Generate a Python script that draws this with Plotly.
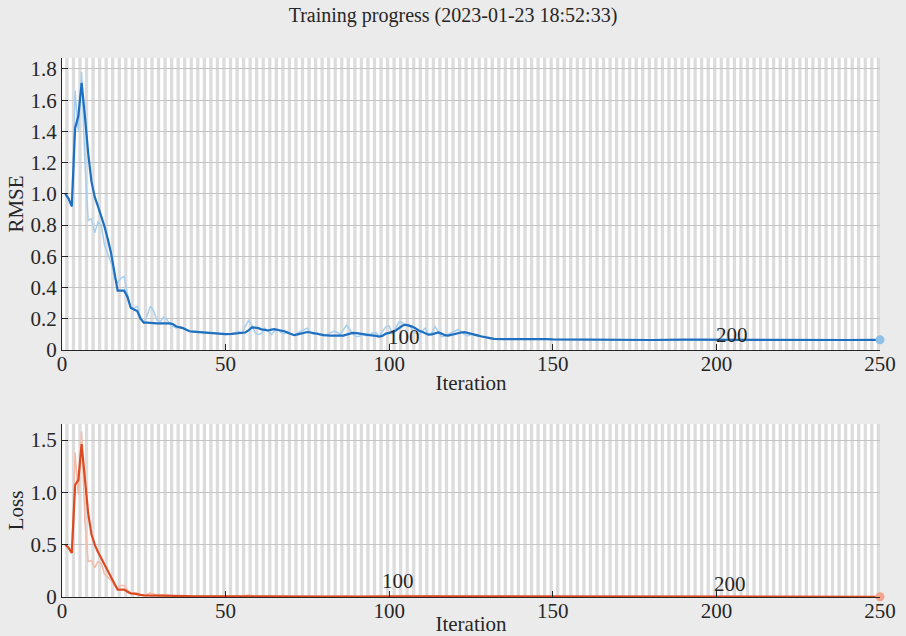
import plotly.graph_objects as go

# ---------------- data ----------------
rmse_it = [1,2,3,4,5,6,7,8,9,10,11,12,13,14,15,16,17,18,19,20,21,22,23,24,25,26,27,28,29,30,
           31,32,33,34,35,36,37,38,39,40,42,44,46,48,50,52,54,56,57,58,59,60,61,62,63,64,65,66,67,68,
           69,70,71,72,73,74,75,76,77,78,80,82,84,86,88,89,90,92,94,96,97,98,99,100,101,102,103,104,105,106,
           107,108,109,110,111,112,113,114,115,116,117,118,119,120,121,122,123,124,125,126,127,128,129,130,
           131,132,135,138,140,143,145,148,150,155,160,170,180,190,200,210,220,230,240,250]
rmse_smooth = [1.00,0.97,0.92,1.42,1.50,1.71,1.50,1.26,1.08,0.98,0.92,0.86,0.79,0.71,0.62,0.50,0.38,0.38,0.38,0.34,
               0.27,0.26,0.25,0.20,0.175,0.175,0.175,0.172,0.17,0.17,0.17,0.17,0.17,0.165,0.15,0.145,0.14,0.13,0.12,0.118,
               0.115,0.11,0.108,0.105,0.102,0.103,0.108,0.112,0.125,0.145,0.143,0.14,0.132,0.128,0.125,0.13,0.134,0.128,0.125,0.12,
               0.11,0.10,0.095,0.10,0.105,0.11,0.115,0.112,0.108,0.10,0.095,0.092,0.09,0.092,0.105,0.11,0.108,0.10,0.095,0.09,
               0.085,0.092,0.105,0.11,0.115,0.125,0.14,0.155,0.162,0.158,0.15,0.14,0.125,0.117,0.105,0.098,0.10,0.108,0.112,0.105,
               0.095,0.092,0.098,0.104,0.108,0.112,0.114,0.11,0.104,0.098,0.094,0.088,0.083,0.078,0.074,0.071,0.07,0.07,0.071,0.074,
               0.073,0.07,0.068,0.067,0.065,0.065,0.064,0.066,0.065,0.066,0.065,0.064,0.064,0.065]

rmse_raw_it = [1,2,3,4,5,6,7,8,9,10,11,12,13,14,15,16,17,18,19,20,21,22,23,24,25,26,27,28,29,30,
               31,32,33,34,35,36,37,38,39,40,42,44,46,48,50,52,54,55,56,57,58,59,60,61,62,63,64,65,66,67,
               68,69,70,71,72,73,74,75,76,77,78,79,80,81,82,83,84,85,86,87,88,89,90,91,92,93,94,95,96,97,
               98,99,100,101,102,103,104,105,106,107,108,109,110,111,112,113,114,115,116,117,118,119,120,121,122,123,
               124,125,126,127,128,129,130,131,132,135,138,140,143,145,148,150,155,160,170,180,190,200,210,220,230,240,250]
rmse_raw = [1.00,0.97,0.92,1.66,1.40,1.78,1.20,0.83,0.84,0.75,0.82,0.80,0.67,0.61,0.56,0.46,0.43,0.46,0.47,0.36,
            0.27,0.27,0.28,0.21,0.17,0.22,0.28,0.25,0.19,0.18,0.21,0.20,0.16,0.15,0.14,0.15,0.14,0.13,0.12,0.12,
            0.115,0.11,0.107,0.105,0.10,0.105,0.12,0.11,0.15,0.19,0.16,0.11,0.10,0.105,0.14,0.12,0.10,0.12,0.135,0.11,
            0.105,0.12,0.10,0.095,0.11,0.12,0.13,0.14,0.11,0.10,0.11,0.095,0.09,0.10,0.11,0.12,0.115,0.10,0.13,0.16,
            0.13,0.10,0.085,0.09,0.10,0.09,0.10,0.11,0.11,0.09,0.12,0.15,0.155,0.10,0.14,0.18,0.175,0.16,0.165,0.13,
            0.11,0.10,0.12,0.14,0.10,0.11,0.15,0.12,0.085,0.09,0.10,0.11,0.12,0.13,0.12,0.10,0.09,0.10,0.095,0.09,
            0.085,0.08,0.075,0.072,0.07,0.07,0.07,0.071,0.074,0.073,0.07,0.068,0.067,0.065,0.065,0.064,0.066,0.065,0.066,0.065,
            0.064,0.064,0.065]

loss_it = [1,2,3,4,5,6,7,8,9,10,11,12,13,14,15,16,17,18,19,20,21,22,23,24,25,26,28,30,32,34,
           36,38,40,45,50,55,58,62,66,70,80,90,100,103,105,107,110,115,120,125,130,140,150,175,200,225,250]
loss_smooth = [0.50,0.47,0.42,1.07,1.12,1.46,1.13,0.80,0.60,0.50,0.43,0.37,0.30,0.24,0.18,0.12,0.07,0.07,0.07,0.05,
               0.035,0.033,0.03,0.02,0.015,0.015,0.015,0.014,0.014,0.013,0.011,0.009,0.007,0.006,0.005,0.006,0.01,0.008,0.008,0.005,
               0.005,0.005,0.006,0.01,0.013,0.011,0.007,0.006,0.006,0.005,0.003,0.0025,0.0023,0.0021,0.0021,0.002,0.002]

loss_raw_it = [1,2,3,4,5,6,7,8,9,10,11,12,13,14,15,16,17,18,19,20,21,22,23,24,25,26,27,28,29,30,
               31,32,33,34,35,36,38,40,45,50,55,57,59,62,66,70,75,80,87,90,99,103,106,110,114,116,121,125,130,140,
               150,175,200,225,250]
loss_raw = [0.50,0.47,0.42,1.38,0.98,1.58,0.72,0.34,0.35,0.28,0.34,0.32,0.22,0.19,0.16,0.11,0.09,0.11,0.11,0.065,
            0.036,0.036,0.04,0.022,0.014,0.024,0.04,0.03,0.018,0.016,0.022,0.02,0.013,0.011,0.01,0.011,0.008,0.007,0.006,0.005,
            0.007,0.018,0.006,0.01,0.009,0.005,0.01,0.004,0.013,0.004,0.012,0.016,0.014,0.007,0.011,0.004,0.008,0.005,0.003,0.0025,
            0.0023,0.0021,0.0021,0.002,0.002]

n_iter = 250
rmse_ticks = [0, 0.2, 0.4, 0.6, 0.8, 1.0, 1.2, 1.4, 1.6, 1.8]
rmse_ticktext = ["0", "0.2", "0.4", "0.6", "0.8", "1.0", "1.2", "1.4", "1.6", "1.8"]
loss_ticks = [0, 0.5, 1.0, 1.5]
loss_ticktext = ["0", "0.5", "1.0", "1.5"]
x_ticks = [0, 50, 100, 150, 200, 250]
epoch_labels = [("100", 104.5, 0.085, 102.7, 0.153), ("200", 204.7, 0.096, 204.3, 0.128)]

# ---------------- styles ----------------
FONT = "'Liberation Serif', 'Times New Roman', Times, serif"
TXT = "#262626"
BLUE = "#1f6fc0"
BLUE_L = "#a9cfec"
RED = "#dc4a22"
RED_L = "#f4bba9"
STRIPE = "#dcdcdc"
PAPER = "#ebebeb"

fig = go.Figure()

fig.add_trace(go.Scatter(x=rmse_raw_it, y=rmse_raw, mode="lines", line=dict(color=BLUE_L, width=1.5),
                         xaxis="x", yaxis="y", showlegend=False))
fig.add_trace(go.Scatter(x=rmse_it, y=rmse_smooth, mode="lines", line=dict(color=BLUE, width=2.2),
                         xaxis="x", yaxis="y", showlegend=False))
fig.add_trace(go.Scatter(x=[rmse_raw_it[-1]], y=[rmse_raw[-1]], mode="markers",
                         marker=dict(color="#8ec0e8", size=9), xaxis="x", yaxis="y", showlegend=False,
                         cliponaxis=False))

fig.add_trace(go.Scatter(x=loss_raw_it, y=loss_raw, mode="lines", line=dict(color=RED_L, width=1.5),
                         xaxis="x2", yaxis="y2", showlegend=False))
fig.add_trace(go.Scatter(x=loss_it, y=loss_smooth, mode="lines", line=dict(color=RED, width=2.2),
                         xaxis="x2", yaxis="y2", showlegend=False))
fig.add_trace(go.Scatter(x=[loss_raw_it[-1]], y=[loss_raw[-1]], mode="markers",
                         marker=dict(color="#f2a58e", size=9), xaxis="x2", yaxis="y2", showlegend=False,
                         cliponaxis=False))

# alternating epoch stripes
shapes = []
for xr, yr in (("x", "y domain"), ("x2", "y2 domain")):
    for e in range(1, n_iter, 2):
        shapes.append(dict(type="rect", xref=xr, yref=yr, x0=e, x1=e + 1, y0=0, y1=1,
                           fillcolor=STRIPE, line=dict(width=0), layer="below"))

annotations = []
for lab, x1, y1, x2, y2 in epoch_labels:
    annotations.append(dict(text=lab, x=x1, y=y1, xref="x", yref="y", showarrow=False,
                            font=dict(family=FONT, size=21, color=TXT)))
    annotations.append(dict(text=lab, x=x2, y=y2, xref="x2", yref="y2", showarrow=False,
                            font=dict(family=FONT, size=21, color=TXT)))

axis_common = dict(showline=True, linecolor=TXT, linewidth=1, ticks="inside", ticklen=6,
                   tickcolor=TXT, tickfont=dict(family=FONT, size=21, color=TXT), zeroline=False,
                   mirror=False, automargin=False)

title_font = dict(family=FONT, size=21, color=TXT)

fig.update_layout(
    width=906, height=636,
    paper_bgcolor=PAPER, plot_bgcolor="white",
    margin=dict(l=62, r=26, t=58, b=39),
    title=dict(text="Training progress (2023-01-23 18:52:33)", x=0.5, xanchor="center",
               y=1 - 15 / 636, yanchor="middle", font=dict(family=FONT, size=20, color=TXT)),
    shapes=shapes,
    annotations=annotations,
    xaxis=dict(axis_common, domain=[0, 1], range=[0, 250], tickvals=x_ticks, showgrid=False,
               anchor="y", ticklabelstandoff=-5,
               title=dict(text="Iteration", standoff=0, font=title_font)),
    yaxis=dict(axis_common, domain=[247 / 539, 1], range=[0, 1.87], tickvals=rmse_ticks,
               ticktext=rmse_ticktext, showgrid=True, gridcolor="#c4c4c4", anchor="x",
               title=dict(text="RMSE", standoff=1, font=title_font)),
    xaxis2=dict(axis_common, domain=[0, 1], range=[0, 250], tickvals=x_ticks, showgrid=False,
                anchor="y2", ticklabelstandoff=-5,
                title=dict(text="Iteration", standoff=3, font=title_font)),
    yaxis2=dict(axis_common, domain=[0, 173 / 539], range=[0, 1.653], tickvals=loss_ticks,
                ticktext=loss_ticktext, showgrid=True, gridcolor="#c4c4c4", anchor="x2",
                title=dict(text="Loss", standoff=1, font=title_font)),
)

fig.write_html("out.html")
